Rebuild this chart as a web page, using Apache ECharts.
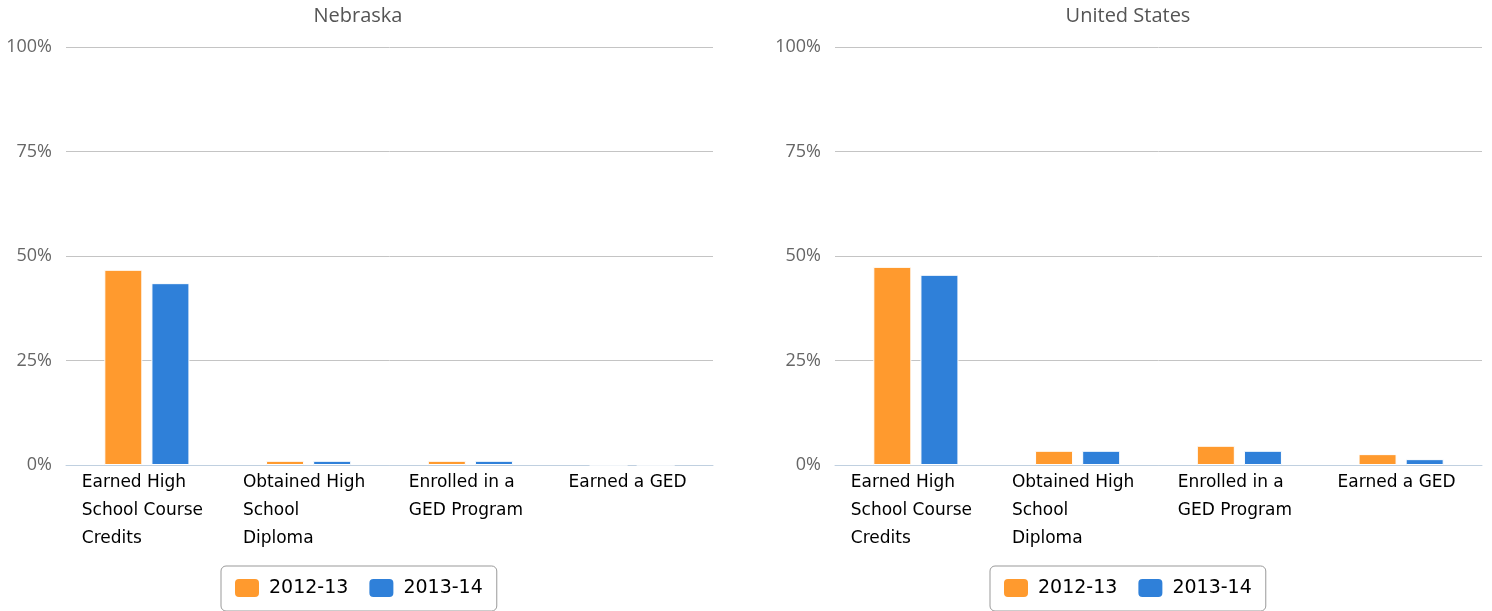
<!DOCTYPE html>
<html>
<head>
<meta charset="utf-8">
<script src="https://cdn.jsdelivr.net/npm/echarts@6/dist/echarts.min.js"></script>
<style>
  html, body { margin: 0; padding: 0; background: #fff; }
  #chart { width: 1492px; height: 611px; }
</style>
</head>
<body>
<div id="chart"></div>
<script>
var categories = ['Earned High\nSchool Course\nCredits', 'Obtained High\nSchool\nDiploma', 'Enrolled in a\nGED Program', 'Earned a GED'];
var seriesNames = ['2012-13', '2013-14'];
var yTicks = [0, 25, 50, 75, 100];
var nebraska_1213 = [46.7, 1.0, 1.0, 0];
var nebraska_1314 = [43.5, 1.0, 1.0, 0];
var us_1213 = [47.4, 3.4, 4.6, 2.6];
var us_1314 = [45.5, 3.4, 3.4, 1.4];
var color_list = ['#ff9a2e', '#2f80d9'];

var chart = echarts.init(document.getElementById('chart'));

function xAxisFor(gridIndex) {
    return {
        type: 'category',
        gridIndex: gridIndex,
        data: categories,
        axisLine: { lineStyle: { color: '#c0d0e0' } },
        axisTick: { length: 8, lineStyle: { color: '#c0d0e0' } },
        axisLabel: {
            interval: 0,
            margin: 4,
            color: '#000',
            fontFamily: 'DejaVu Sans',
            fontSize: 17,
            lineHeight: 28,
            formatter: function (v) {
                // left align the lines inside a centred block
                return v.split('\n').map(function (l) { return '{a|' + l + '}'; }).join('\n');
            },
            rich: { a: { align: 'left', padding: [0, 9, 0, 0], fontFamily: 'DejaVu Sans', fontSize: 17, lineHeight: 28, color: '#000' } }
        }
    };
}

function yAxisFor(gridIndex) {
    return {
        type: 'value',
        gridIndex: gridIndex,
        min: yTicks[0],
        max: yTicks[yTicks.length - 1],
        interval: 25,
        axisLine: { show: false },
        axisTick: { show: false },
        splitLine: { lineStyle: { color: '#c4c4c4' } },
        axisLabel: {
            margin: 14,
            color: '#666',
            fontFamily: 'Open Sans',
            fontSize: 18,
            formatter: '{value}%'
        }
    };
}

function barSeries(name, idx, values, color) {
    return {
        name: name,
        type: 'bar',
        xAxisIndex: idx,
        yAxisIndex: idx,
        data: values,
        barWidth: 38,
        barGap: '24%',
        itemStyle: { color: color, borderColor: '#fff', borderWidth: 1 }
    };
}

function legendFor(left) {
    return {
        left: left,
        top: 566,
        data: seriesNames,
        itemWidth: 26,
        itemHeight: 20,
        itemGap: 19,
        padding: [11, 14, 12, 12],
        borderColor: '#999',
        borderWidth: 1,
        borderRadius: 5,
        icon: 'roundRect',
        textStyle: { color: '#000', fontFamily: 'DejaVu Sans', fontSize: 19, padding: [0, 0, 0, 4] }
    };
}

chart.setOption({
    animation: false,
    color: color_list,
    title: [
        { text: 'Nebraska', left: 353, top: 1, textAlign: 'center',
          textStyle: { color: '#555', fontFamily: 'Open Sans', fontSize: 20, fontWeight: 'normal' } },
        { text: 'United States', left: 1123, top: 1, textAlign: 'center',
          textStyle: { color: '#555', fontFamily: 'Open Sans', fontSize: 20, fontWeight: 'normal' } }
    ],
    legend: [legendFor(221), legendFor(990)],
    grid: [
        { left: 66, width: 647, top: 47, height: 418 },
        { left: 835, width: 647, top: 47, height: 418 }
    ],
    xAxis: [xAxisFor(0), xAxisFor(1)],
    yAxis: [yAxisFor(0), yAxisFor(1)],
    series: [
        barSeries(seriesNames[0], 0, nebraska_1213, color_list[0]),
        barSeries(seriesNames[1], 0, nebraska_1314, color_list[1]),
        barSeries(seriesNames[0], 1, us_1213, color_list[0]),
        barSeries(seriesNames[1], 1, us_1314, color_list[1])
    ]
});
</script>
</body>
</html>
